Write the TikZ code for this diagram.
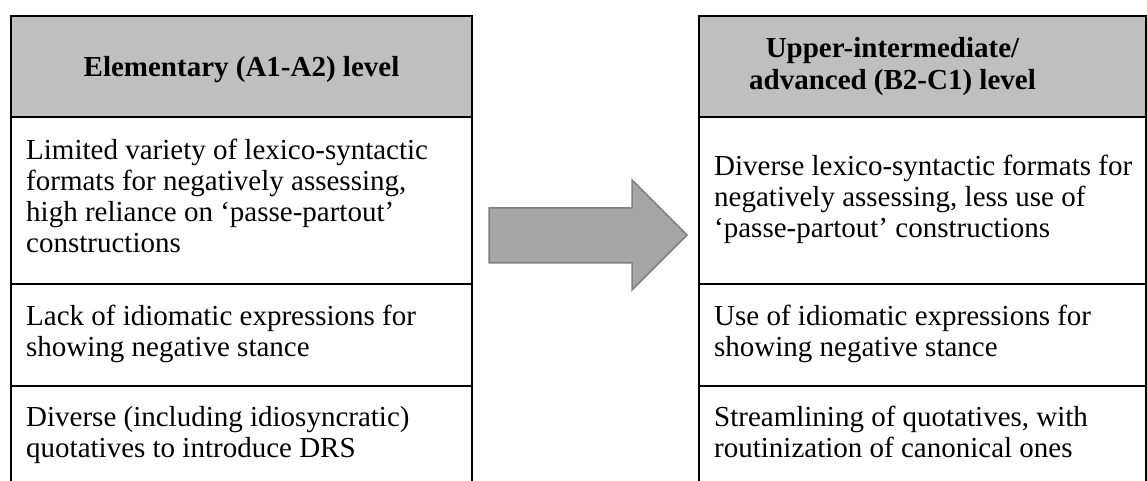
\documentclass[tikz,border=0pt]{standalone}
\usepackage{fontspec}
\setmainfont{Liberation Serif}
\usepackage{tikz}
\usetikzlibrary{positioning}
\definecolor{headgray}{RGB}{191,191,191}
\definecolor{arrowgray}{RGB}{166,166,166}
\definecolor{arrowedge}{RGB}{128,128,128}

\begin{document}
\begin{tikzpicture}[
    x=1pt, y=1pt,
    node distance=0pt,
    cell/.style={draw, line width=2pt, outer sep=0pt, inner sep=0pt,
                 anchor=north west},
    headcell/.style={cell, fill=headgray, minimum height=101pt,
                     font=\bfseries\fontsize{29}{32}\selectfont},
    celltext/.style={anchor=west, inner sep=0pt, align=left,
                     font=\fontsize{29}{31}\selectfont,
                     execute at begin node=\strut, execute at end node=\strut},
    leftcol/.style={minimum width=461pt},
    rightcol/.style={minimum width=447pt},
  ]
  \useasboundingbox (0,0) rectangle (1147,481);
  \clip (0,0) rectangle (1147,481);

  % Left column
  \node[headcell, leftcol, text depth=0pt] (headL) at (11,465) {Elementary (A1-A2) level};
  \node[cell, leftcol, below=of headL, minimum height=167.5pt] (left1) {};
  \node[cell, leftcol, below=of left1, minimum height=101.5pt] (left2) {};
  \node[cell, leftcol, below=of left2, minimum height=101pt] (left3) {};
  \node[celltext] (left1txt) at ([xshift=15pt]left1.west) {Limited variety of lexico-syntactic\\formats for negatively assessing,\\high reliance on ‘passe-partout’\\constructions};
  \node[celltext] (left2txt) at ([xshift=15pt]left2.west) {Lack of idiomatic expressions for\\showing negative stance};
  \node[celltext] (left3txt) at ([xshift=15pt]left3.west) {Diverse (including idiosyncratic)\\quotatives to introduce DRS};

  % Right column
  \node[headcell, rightcol] (headR) at (699,465) {};
  \node[font=\bfseries\fontsize{29}{32}\selectfont, align=center, inner sep=0pt] (headRtxt) at ([xshift=-30pt]headR.center) {Upper-intermediate/\\advanced (B2-C1) level};
  \node[cell, rightcol, below=of headR, minimum height=167.5pt] (right1) {};
  \node[cell, rightcol, below=of right1, minimum height=101.5pt] (right2) {};
  \node[cell, rightcol, below=of right2, minimum height=101pt] (right3) {};
  \node[celltext] (right1txt) at ([xshift=15pt]right1.west) {Diverse lexico-syntactic formats for\\negatively assessing, less use of\\‘passe-partout’ constructions};
  \node[celltext] (right2txt) at ([xshift=15pt]right2.west) {Use of idiomatic expressions for\\showing negative stance};
  \node[celltext] (right3txt) at ([xshift=15pt]right3.west) {Streamlining of quotatives, with\\routinization of canonical ones};

  % Block arrow
  \draw[arrowedge, fill=arrowgray, line width=1.5pt]
    (489,273) -- (632,273) -- (632,301) -- (687,246) -- (632,191) -- (632,218) -- (489,218) -- cycle;

\end{tikzpicture}
\end{document}
